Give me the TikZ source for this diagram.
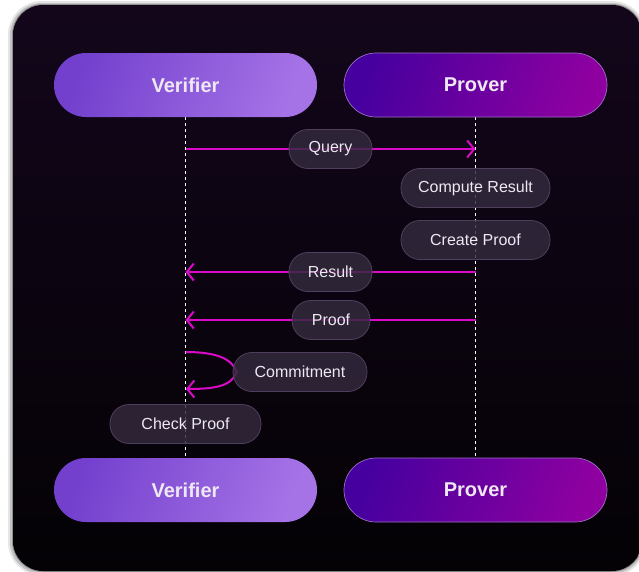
\documentclass[tikz,border=0pt]{standalone}
\usepackage{fontspec}
\setmainfont{Liberation Sans}
\usetikzlibrary{arrows.meta,calc}
\definecolor{bgtop}{HTML}{13061B}
\definecolor{bgbot}{HTML}{040205}
\definecolor{mag}{HTML}{D90BC9}
\definecolor{pillfill}{HTML}{342A3E}
\definecolor{pillline}{HTML}{503F5C}
\definecolor{txt}{HTML}{EEE8F2}
\definecolor{verA}{HTML}{7340CE}
\definecolor{verB}{HTML}{A673E7}
\definecolor{proA}{HTML}{46009F}
\definecolor{proB}{HTML}{8E00A0}
\definecolor{proline}{HTML}{9A6FC4}
\pgfdeclarelayer{bgl}
\pgfdeclarelayer{lines}
\pgfsetlayers{bgl,lines,main}
\begin{document}
\begin{tikzpicture}[x=1pt,y=-1pt,
  actor/.style={rounded corners=32pt, minimum width=263pt, minimum height=64pt, inner sep=0pt,
    text=txt, font=\bfseries\fontsize{20}{24}\selectfont},
  verbox/.style={actor, left color=verA, right color=verB, shading angle=70},
  probox/.style={actor, left color=proA, right color=proB, shading angle=70, draw=proline, line width=0.7pt},
  pill/.style={rounded corners=19pt, minimum height=39pt, inner sep=0pt, fill=pillfill,
    fill opacity=0.82, text opacity=1, draw=pillline, line width=0.8pt, text=txt,
    font=\fontsize{16}{19}\selectfont},
  life/.style={white, line width=1.2pt, dash pattern=on 3pt off 3pt},
  msg/.style={mag, line width=2pt, -{Straight Barb[length=7pt,width=17pt,line width=2pt]}}
]
\useasboundingbox (0,0) rectangle (639,571);
% background card
\begin{pgfonlayer}{bgl}
\fill[white] (0,0) rectangle (639,571);
\fill[black, opacity=0.10, rounded corners=34pt] (8,1) rectangle (646,576);
\fill[black, opacity=0.15, rounded corners=32pt] (10,3) rectangle (644,574);
\fill[black, opacity=0.25, rounded corners=31pt] (12,4) rectangle (643,572);
\shade[top color=bgtop, bottom color=bgbot, rounded corners=30pt] (13,5) rectangle (642,571);
\end{pgfonlayer}

% actors
\node[verbox] (vt) at (185.5,85) {Verifier};
\node[probox] (pt) at (475.5,85) {Prover};
\node[verbox] (vb) at (185.5,490) {Verifier};
\node[probox] (pb) at (475.5,490) {Prover};

% pills
\node[pill, minimum width=83pt] (q) at (330.5,149) {Query};
\node[pill, minimum width=149pt] (cr) at (475.5,188) {Compute Result};
\node[pill, minimum width=149pt] (cp) at (475.5,240) {Create Proof};
\node[pill, minimum width=83pt] (r) at (330.5,272) {Result};
\node[pill, minimum width=78pt] (p) at (331,320) {Proof};
\node[pill, minimum width=134pt] (cm) at (300,372) {Commitment};
\node[pill, minimum width=151pt] (ck) at (185.5,424) {Check Proof};

\coordinate (c1) at (185.5,352);
\coordinate (c2) at (186,389);

\begin{pgfonlayer}{lines}
\draw[life] (vt.south) -- (vb.north);
\draw[life] (pt.south) -- (pb.north);
\draw[msg] (vt.south |- q) -- (pt.south |- q);
\draw[msg] (pt.south |- r) -- (vt.south |- r);
\draw[msg] (pt.south |- p) -- (vt.south |- p);
\draw[msg] (c1) .. controls (215,352) and (232,358) .. ($(cm.west)+(4,0)$)
  .. controls (232,386) and (215,389) .. (c2);
\end{pgfonlayer}
\end{tikzpicture}
\end{document}
